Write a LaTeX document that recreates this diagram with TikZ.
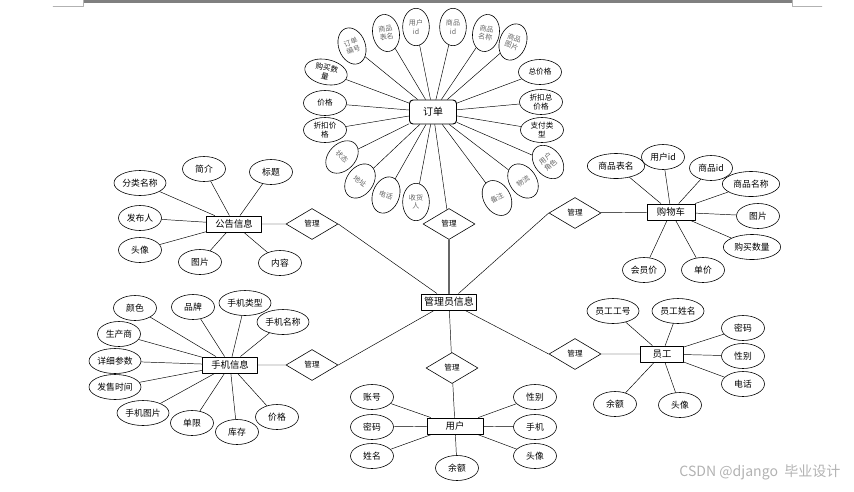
\documentclass[tikz,border=0pt]{standalone}
\usepackage{fontspec}
\newfontfamily\cjk{Noto Sans CJK SC}
\usetikzlibrary{shapes.geometric}
\begin{document}
\begin{tikzpicture}[x=0.03cm,y=-0.03cm,line join=round,line cap=round,
	ent/.style={draw,line width=0.8pt,minimum width=1.65cm,minimum height=0.48cm,inner sep=1pt,font=\cjk\fontsize{8}{9}\selectfont},
	att/.style={draw,ellipse,line width=0.5pt,minimum width=1.29cm,minimum height=0.75cm,inner sep=0pt,font=\cjk\fontsize{7.5}{8.5}\selectfont},
	wide/.style={att,minimum width=1.56cm},
	wider/.style={att,minimum width=1.72cm},
	oatt/.style={draw,ellipse,line width=0.5pt,minimum width=0.8cm,minimum height=1.12cm,inner sep=0pt,align=center,text=black!60,font=\cjk\fontsize{6}{7}\selectfont},
	oh/.style={oatt,minimum width=1.29cm,minimum height=0.75cm,text=black,font=\cjk\fontsize{6.5}{7.5}\selectfont},
	rel/.style={draw,diamond,line width=0.5pt,aspect=1.7,minimum width=1.56cm,minimum height=0.93cm,inner sep=0pt,font=\cjk\fontsize{6.5}{7}\selectfont}]
	\useasboundingbox (0,0) rectangle (854,491);
	% page edge
	\fill[black!50] (84,0) rectangle (792,3);
	\draw[black!30] (53,6)--(83,6)--(83,0);
	\draw[black!30] (792,0)--(792,6)--(822,6);
	% centre
	\node[ent,font=\cjk\fontsize{8.5}{9}\selectfont] (admin) at (449,302) {管理员信息};
	\node[rel] (m1) at (449,224) {管理};
	\node[rel] (m2) at (452,368) {管理};
	\node[rel] (m3) at (312,224) {管理};
	\node[rel] (m4) at (312,365) {管理};
	\node[rel] (m5) at (575,213) {管理};
	\node[rel] (m6) at (575,354) {管理};
	\draw[black!60,line width=1.2pt] (m1)--(admin);
	\draw (m2)--(admin);
	\draw (m3.east)--(admin);
	\draw (m4.east)--(admin);
	\draw (m5.west)--(admin);
	\draw (m6.west)--(admin);
	% order
	\node[ent,rounded corners=3pt,minimum width=1.41cm,minimum height=0.72cm,font=\cjk\fontsize{8.5}{9}\selectfont] (order) at (433,112) {订单};
	\node[oatt,rotate=20] (o1) at (352,46) {订单\\编号};
	\node[oatt,rotate=10] (o2) at (386,33) {商品\\表名};
	\node[oatt] (o3) at (416,27) {用户\\id};
	\node[oatt] (o4) at (453,27) {商品\\id};
	\node[oatt,rotate=-10] (o5) at (486,33) {商品\\名称};
	\node[oatt,rotate=-20] (o6) at (513,42) {商品\\图片};
	\node[oh,rotate=-12] (o7) at (326,72) {购买数\\量};
	\node[oh] (o8) at (325,103) {价格};
	\node[oh] (o9) at (325,130) {折扣价\\格};
	\node[oatt,rotate=-45] (o10) at (342,157) {状态};
	\node[oatt,rotate=-35] (o11) at (360,181) {地址};
	\node[oatt,rotate=-20] (o12) at (386,195) {电话};
	\node[oatt] (o13) at (416,202) {收货\\人};
	\node[oatt,rotate=30] (o14) at (497,198) {备注};
	\node[oatt,rotate=35] (o15) at (523,181) {物流};
	\node[oatt,rotate=40] (o16) at (548,162) {用户\\角色};
	\node[oh] (o17) at (540,72) {总价格};
	\node[oh] (o18) at (541,102) {折扣总\\价格};
	\node[oh] (o19) at (542,130) {支付类\\型};
	\draw (order)--(o1) (order)--(o2) (order)--(o3) (order)--(o4) (order)--(o5) (order)--(o6)
	(order)--(o7) (order)--(o8) (order)--(o9) (order)--(o10) (order)--(o11) (order)--(o12)
	(order)--(o13) (order)--(o14) (order)--(o15) (order)--(o16) (order)--(o17) (order)--(o18)
	(order)--(o19) (order)--(m1);
	% notice
	\node[ent] (notice) at (234,224) {公告信息};
	\node[att] (n1) at (204,169) {简介};
	\node[att] (n2) at (271,172) {标题};
	\node[wide] (n3) at (140,183) {分类名称};
	\node[att] (n4) at (140,218) {发布人};
	\node[att] (n5) at (140,250) {头像};
	\node[att] (n6) at (200,262) {图片};
	\node[att] (n7) at (280,263) {内容};
	\draw (notice)--(n1) (notice)--(n2) (notice)--(n3) (notice)--(n4) (notice)--(n5)
	(notice)--(n6) (notice)--(n7) (notice)--(m3);
	% cart
	\node[ent,minimum width=1.44cm] (cart) at (671,212) {购物车};
	\node[wider] (c1) at (616,166) {商品表名};
	\node[att] (c2) at (663,157) {用户id};
	\node[att] (c3) at (711,168) {商品id};
	\node[wider] (c4) at (751,184) {商品名称};
	\node[att] (c5) at (758,216) {图片};
	\node[wider] (c6) at (752,247) {购买数量};
	\node[att] (c7) at (644,270) {会员价};
	\node[att] (c8) at (703,270) {单价};
	\draw (cart)--(c1) (cart)--(c2) (cart)--(c3) (cart)--(c4) (cart)--(c5) (cart)--(c6)
	(cart)--(c7) (cart)--(c8) (cart)--(m5);
	% phone
	\node[ent] (phone) at (230,365) {手机信息};
	\node[att] (p1) at (135,308) {颜色};
	\node[att] (p2) at (193,307) {品牌};
	\node[wide] (p3) at (245,303) {手机类型};
	\node[wide] (p4) at (283,322) {手机名称};
	\node[att] (p5) at (119,334) {生产商};
	\node[wide] (p6) at (115,361) {详细参数};
	\node[wide] (p7) at (115,387) {发售时间};
	\node[wide] (p8) at (143,413) {手机图片};
	\node[att] (p9) at (192,423) {单限};
	\node[att] (p10) at (237,432) {库存};
	\node[att] (p11) at (277,417) {价格};
	\draw (phone)--(p1) (phone)--(p2) (phone)--(p3) (phone)--(p4) (phone)--(p5) (phone)--(p6)
	(phone)--(p7) (phone)--(p8) (phone)--(p9) (phone)--(p10) (phone)--(p11) (phone)--(m4);
	% user
	\node[ent,minimum width=1.68cm] (user) at (455,426) {用户};
	\node[att] (u1) at (372,397) {账号};
	\node[att] (u2) at (372,427) {密码};
	\node[att] (u3) at (372,456) {姓名};
	\node[att] (u4) at (457,468) {余额};
	\node[att] (u5) at (535,397) {性别};
	\node[att] (u6) at (535,427) {手机};
	\node[att] (u7) at (535,456) {头像};
	\draw (user)--(u1) (user)--(u2) (user)--(u3) (user)--(u4) (user)--(u5) (user)--(u6)
	(user)--(u7) (user)--(m2);
	% staff
	\node[ent,minimum width=1.29cm] (staff) at (662,354) {员工};
	\node[wide] (s1) at (613,311) {员工工号};
	\node[wide] (s2) at (678,311) {员工姓名};
	\node[att] (s3) at (743,328) {密码};
	\node[att] (s4) at (743,356) {性别};
	\node[att] (s5) at (743,384) {电话};
	\node[att] (s6) at (615,404) {余额};
	\node[att] (s7) at (680,405) {头像};
	\draw (staff)--(s1) (staff)--(s2) (staff)--(s3) (staff)--(s4) (staff)--(s5)
	(staff)--(s6) (staff)--(s7) (staff)--(m6);
	% watermark
	\node[text=black!30,font=\cjk\fontsize{12}{13}\selectfont] (mark) at (760,472) {CSDN @django\ \ 毕业设计};
\end{tikzpicture}
\end{document}
